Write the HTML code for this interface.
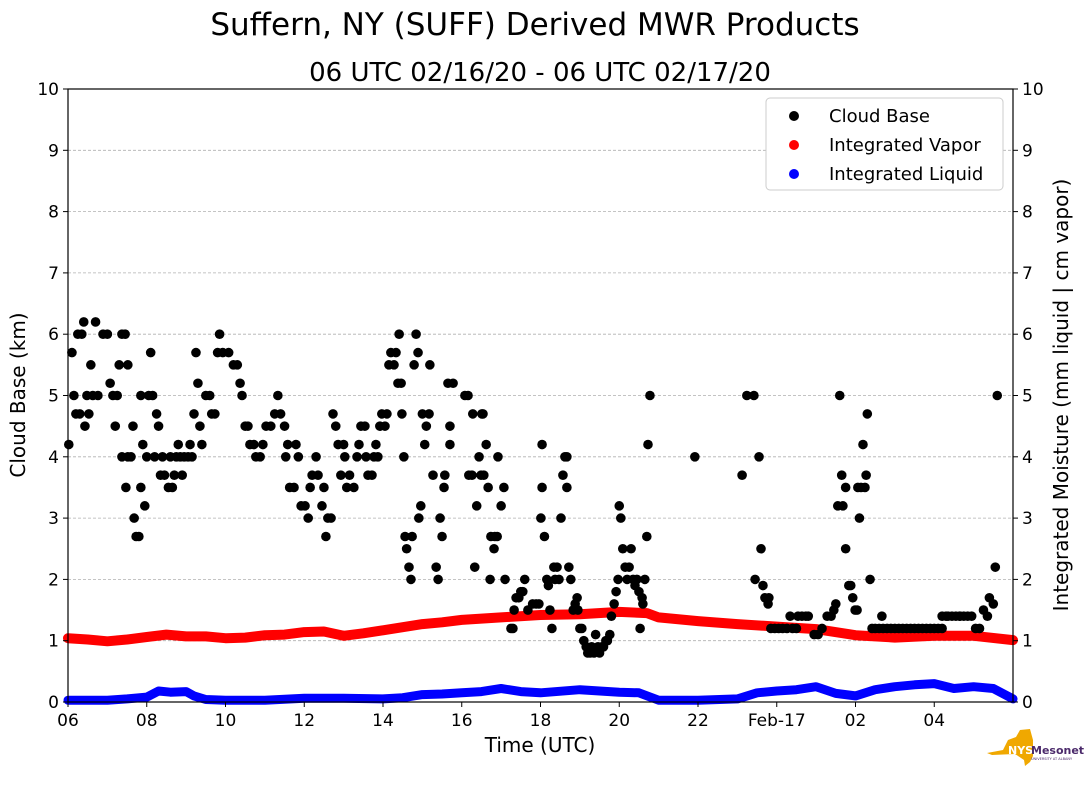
<!DOCTYPE html>
<html><head><meta charset="utf-8"><style>
html,body{margin:0;padding:0;background:#fff;}
svg text{font-family:"DejaVu Sans","Liberation Sans",sans-serif;}
</style></head><body>
<svg id="chart" width="1089" height="804" viewBox="0 0 1089 804" xmlns="http://www.w3.org/2000/svg">
<text x="535" y="35" font-size="31" text-anchor="middle">Suffern, NY (SUFF) Derived MWR Products</text>
<text x="540" y="81" font-size="26" text-anchor="middle">06 UTC 02/16/20 - 06 UTC 02/17/20</text>
<g id="grid"></g>
<g id="series"></g>
<rect x="68" y="89" width="945" height="613" fill="none" stroke="#000" stroke-width="1.2"/>
<g id="axes"></g>
<text x="0" y="0" font-size="20" text-anchor="middle" transform="translate(25,395) rotate(-90)">Cloud Base (km)</text>
<text x="0" y="0" font-size="20" text-anchor="middle" transform="translate(1068,395) rotate(-90)">Integrated Moisture (mm liquid | cm vapor)</text>
<text x="540" y="752" font-size="20" text-anchor="middle">Time (UTC)</text>
<g>
<rect x="766" y="98" width="237" height="92" rx="4" fill="#fff" stroke="#ccc"/>
<circle cx="794" cy="116" r="5" fill="#000"/>
<text x="829" y="122" font-size="18">Cloud Base</text>
<circle cx="794" cy="145" r="5" fill="red"/>
<text x="829" y="151" font-size="18">Integrated Vapor</text>
<circle cx="794" cy="174" r="5" fill="blue"/>
<text x="829" y="180" font-size="18">Integrated Liquid</text>
</g>
<g>
<path d="M987,753 L1003,750 L1008,740 L1016,737 L1020,730 L1030,729 L1033,740 L1033,756 L1030,762 L1025,766 L1024,760 L1015,754 L992,755 Z" fill="#f0a800"/>
<text x="1008" y="754" font-size="11" font-weight="bold" fill="#fff">NYS</text>
<text x="1031" y="754" font-size="11" font-weight="bold" fill="#4b2a6b">Mesonet</text>
<text x="1031" y="760" font-size="3.5" fill="#4b2a6b">UNIVERSITY AT ALBANY</text>
</g>
</svg>
<script>
const xTickLabels=["06","08","10","12","14","16","18","20","22","Feb-17","02","04"];
const yTicks=[0,1,2,3,4,5,6,7,8,9,10];
const cloudTime=[0.02,0.1,0.15,0.2,0.25,0.3,0.35,0.4,0.43,0.48,0.53,0.58,0.63,0.7,0.76,0.89,1.0,1.07,1.14,1.2,1.25,1.3,1.37,1.37,1.45,1.47,1.52,1.52,1.6,1.65,1.68,1.73,1.8,1.85,1.85,1.9,1.95,2.0,2.05,2.1,2.15,2.2,2.25,2.3,2.35,2.4,2.45,2.55,2.6,2.65,2.7,2.75,2.8,2.85,2.9,2.95,3.05,3.1,3.15,3.2,3.25,3.3,3.35,3.4,3.5,3.6,3.65,3.73,3.8,3.85,3.93,4.08,4.2,4.3,4.37,4.42,4.5,4.57,4.62,4.72,4.77,4.88,4.95,5.03,5.15,5.25,5.33,5.4,5.5,5.53,5.58,5.63,5.74,5.79,5.85,5.92,6.02,6.1,6.15,6.2,6.3,6.35,6.45,6.5,6.55,6.6,6.68,6.73,6.8,6.86,6.93,7.0,7.03,7.08,7.15,7.26,7.34,7.39,7.44,7.54,7.57,7.62,7.72,7.77,7.82,7.87,7.92,7.97,8.05,8.1,8.15,8.2,8.28,8.33,8.38,8.41,8.46,8.48,8.53,8.56,8.6,8.66,8.71,8.74,8.79,8.84,8.89,8.91,8.96,9.0,9.06,9.1,9.17,9.19,9.27,9.35,9.4,9.45,9.5,9.55,9.57,9.65,9.7,9.7,9.78,10.08,10.16,10.18,10.26,10.28,10.33,10.38,10.44,10.49,10.51,10.54,10.56,10.62,10.67,10.72,10.74,10.82,10.84,10.9,10.92,11.0,11.07,11.1,11.25,11.3,11.33,11.38,11.45,11.5,11.55,11.6,11.68,11.8,11.89,11.96,12.01,12.04,12.04,12.1,12.16,12.2,12.24,12.29,12.34,12.37,12.42,12.47,12.52,12.57,12.62,12.67,12.67,12.72,12.77,12.83,12.88,12.93,12.95,13.0,13.05,13.1,13.16,13.2,13.26,13.3,13.36,13.4,13.46,13.5,13.56,13.6,13.66,13.7,13.76,13.8,13.87,13.92,13.97,14.0,14.04,14.09,14.15,14.2,14.25,14.3,14.35,14.4,14.45,14.5,14.53,14.58,14.6,14.65,14.7,14.73,14.78,15.92,17.12,17.24,17.42,17.45,17.55,17.6,17.65,17.7,17.78,17.8,17.85,17.95,18.05,18.15,18.26,18.34,18.4,18.5,18.54,18.64,18.74,18.8,18.95,19.05,19.15,19.28,19.38,19.45,19.5,19.55,19.6,19.65,19.68,19.75,19.75,19.83,19.88,19.93,19.99,20.04,20.06,20.1,20.14,20.19,20.24,20.27,20.3,20.37,20.42,20.5,20.6,20.67,20.7,20.8,20.9,21.0,21.1,21.2,21.3,21.4,21.5,21.6,21.7,21.8,21.9,22.0,22.1,22.2,22.3,22.2,22.35,22.45,22.55,22.65,22.75,22.85,22.95,23.05,23.15,23.25,23.35,22.65,23.4,23.5,23.55,23.6,23.65,23.77];
const cloudKm=[4.2,5.7,5.0,4.7,6.0,4.7,6.0,6.2,4.5,5.0,4.7,5.5,5.0,6.2,5.0,6.0,6.0,5.2,5.0,4.5,5.0,5.5,6.0,4.0,6.0,3.5,5.5,4.0,4.0,4.5,3.0,2.7,2.7,3.5,5.0,4.2,3.2,4.0,5.0,5.7,5.0,4.0,4.7,4.5,3.7,4.0,3.7,3.5,4.0,3.5,3.7,4.0,4.2,4.0,3.7,4.0,4.0,4.2,4.0,4.7,5.7,5.2,4.5,4.2,5.0,5.0,4.7,4.7,5.7,6.0,5.7,5.7,5.5,5.5,5.2,5.0,4.5,4.5,4.2,4.2,4.0,4.0,4.2,4.5,4.5,4.7,5.0,4.7,4.5,4.0,4.2,3.5,3.5,4.2,4.0,3.2,3.2,3.0,3.5,3.7,4.0,3.7,3.2,3.5,2.7,3.0,3.0,4.7,4.5,4.2,3.7,4.2,4.0,3.5,3.7,3.5,4.0,4.2,4.5,4.5,4.0,3.7,3.7,4.0,4.2,4.0,4.5,4.7,4.5,4.7,5.5,5.7,5.5,5.7,5.2,6.0,5.2,4.7,4.0,2.7,2.5,2.2,2.0,2.7,5.5,6.0,5.7,3.0,3.2,4.7,4.2,4.5,4.7,5.5,3.7,2.2,2.0,3.0,2.7,3.5,3.7,5.2,4.5,4.2,5.2,5.0,5.0,3.7,3.7,4.7,2.2,3.2,4.0,3.7,4.7,4.7,3.7,4.2,3.5,2.0,2.7,2.5,2.7,2.7,4.0,3.2,3.5,2.0,1.2,1.2,1.5,1.7,1.7,1.8,1.8,2.0,1.5,1.6,1.6,1.6,3.0,3.5,4.2,2.7,2.0,1.9,1.5,1.2,2.2,2.0,2.2,2.0,3.0,3.7,4.0,4.0,3.5,2.2,2.0,1.5,1.6,1.7,1.5,1.2,1.2,1.0,0.9,0.8,0.8,0.9,0.8,1.1,0.9,0.8,0.9,0.9,1.0,1.0,1.1,1.4,1.6,1.8,2.0,3.2,3.0,2.5,2.2,2.0,2.2,2.5,2.0,1.9,2.0,1.8,1.2,1.7,1.6,2.0,2.7,4.2,5.0,4.0,3.7,5.0,5.0,2.0,4.0,2.5,1.9,1.7,1.6,1.7,1.2,1.2,1.2,1.2,1.2,1.4,1.2,1.2,1.4,1.4,1.4,1.4,1.1,1.1,1.2,1.4,1.4,1.5,1.6,3.2,5.0,3.7,3.2,2.5,3.5,1.9,1.9,1.7,1.5,1.5,3.5,3.0,3.5,4.2,3.5,3.7,4.7,2.0,1.2,1.2,1.2,1.4,1.2,1.2,1.2,1.2,1.2,1.2,1.2,1.2,1.2,1.2,1.2,1.2,1.2,1.2,1.2,1.2,1.4,1.4,1.4,1.4,1.4,1.4,1.4,1.4,1.4,1.2,1.2,1.5,1.4,1.4,1.7,1.6,2.2,5.0];
const vaporTime=[0,0.5,1,1.5,2,2.5,3,3.5,4,4.5,5,5.5,6,6.5,7,7.5,8,8.5,9,9.5,10,11,12,13,14,14.7,15,16,17,18,19,20,21,22,23,24];
const vaporVal=[1.04,1.02,0.99,1.02,1.06,1.1,1.07,1.07,1.04,1.05,1.09,1.1,1.14,1.15,1.08,1.12,1.17,1.22,1.27,1.3,1.34,1.38,1.42,1.43,1.47,1.45,1.38,1.32,1.27,1.23,1.19,1.09,1.05,1.08,1.08,1.01];
const liquidTime=[0,0.5,1,1.5,2,2.3,2.6,3,3.2,3.5,4,5,6,7,8,8.5,9,9.5,10,10.5,11,11.5,12,13,14,14.5,15,16,17,17.5,18,18.5,19,19.5,20,20.5,21,21.5,22,22.5,23,23.5,24];
const liquidVal=[0.03,0.03,0.03,0.05,0.08,0.18,0.16,0.17,0.1,0.04,0.03,0.03,0.06,0.06,0.05,0.07,0.12,0.13,0.15,0.17,0.22,0.17,0.15,0.2,0.16,0.15,0.03,0.03,0.05,0.15,0.18,0.2,0.25,0.14,0.1,0.2,0.25,0.28,0.3,0.22,0.25,0.22,0.05];
const NS="http://www.w3.org/2000/svg";
const X0=68,X1=1013,Y0=702,Y1=89;
function xs(h){return X0+(X1-X0)*h/24;}
function ys(v){return Y0-(Y0-Y1)*v/10;}
function mk(tag,attrs,parent){const e=document.createElementNS(NS,tag);for(const k in attrs)e.setAttribute(k,attrs[k]);parent.appendChild(e);return e;}
const grid=document.getElementById('grid'),axes=document.getElementById('axes'),ser=document.getElementById('series');
yTicks.forEach(v=>{
  if(v>0&&v<10){const g=mk('line',{x1:X0,x2:X1,y1:ys(v),y2:ys(v),stroke:'#b0b0b0','stroke-dasharray':'3,2','stroke-width':0.8},grid);
  
  }
  mk('line',{x1:X0-5,x2:X0,y1:ys(v),y2:ys(v),stroke:'#000'},axes);
  mk('line',{x1:X1,x2:X1+5,y1:ys(v),y2:ys(v),stroke:'#000'},axes);
  const l=mk('text',{x:X0-9,y:ys(v)+6,'font-size':17,'text-anchor':'end'},axes);l.textContent=v;
  
  
  const r=mk('text',{x:X1+9,y:ys(v)+6,'font-size':17},axes);r.textContent=v;
  
  
});
xTickLabels.forEach((lab,i)=>{
  const x=xs(i*2);
  mk('line',{x1:x,x2:x,y1:Y0,y2:Y0+5,stroke:'#000'},axes);
  const t=mk('text',{x:x,y:Y0+24,'font-size':17,'text-anchor':'middle'},axes);t.textContent=lab;
  
  
});
function line(times,vals,color,w,name){
  const d=times.map((t,i)=>(i?'L':'M')+xs(t).toFixed(1)+','+ys(vals[i]).toFixed(1)).join(' ');
  const p=mk('path',{d:d,stroke:color,'stroke-width':w,fill:'none','stroke-linecap':'round','stroke-linejoin':'round'},ser);
  
  
}
line(vaporTime,vaporVal,'red',10,'integrated-vapor-series');
line(liquidTime,liquidVal,'blue',9,'integrated-liquid-series');
const nPts=Math.min(cloudTime.length,cloudKm.length);
for(let i=0;i<nPts;i++){
  const t=cloudTime[i],k=cloudKm[i];
  if(typeof t!=='number'||typeof k!=='number')continue;
  const c=mk('circle',{cx:xs(t),cy:ys(k),r:4.8,fill:'#000'},ser);
  
  
}
</script>
</body></html>
